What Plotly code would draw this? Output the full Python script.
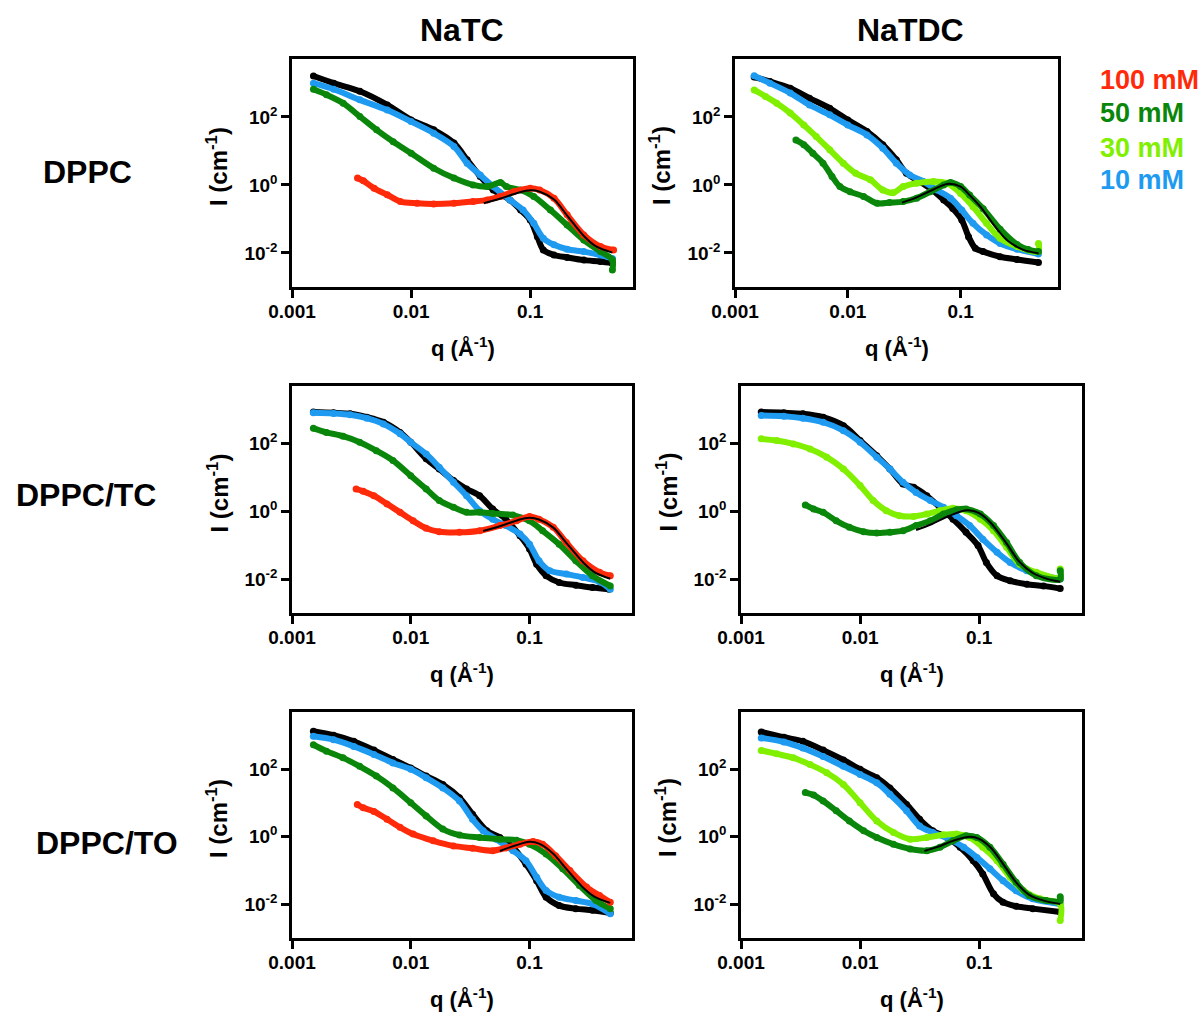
import numpy as np
import plotly.graph_objects as go

# SANS curves, stored as log10(q / Å^-1) and log10(I / cm^-1)
# Colours per bile-salt concentration
C0, C10, C30, C50, C100 = "#000000", "#1e9bf0", "#80f000", "#0a870a", "#ff2a0a"

# ---------------- DPPC + NaTC ----------------
p1_k_lq = [-2.82, -2.65, -2.43, -2.20, -2.0, -1.81, -1.64, -1.53, -1.42, -1.31, -1.17, -1.08, -1.0, -0.94, -0.89, -0.80, -0.69, -0.55, -0.41, -0.31]
p1_k_lI = [3.2, 2.99, 2.75, 2.35, 1.91, 1.62, 1.23, 0.74, 0.25, -0.15, -0.44, -0.74, -1.03, -1.52, -1.91, -2.06, -2.13, -2.21, -2.25, -2.30]
p1_b_lq = [-2.82, -2.65, -2.43, -2.20, -2.0, -1.81, -1.64, -1.53, -1.42, -1.31, -1.17, -1.06, -0.97, -0.89, -0.80, -0.69, -0.55, -0.41, -0.31]
p1_b_lI = [2.99, 2.81, 2.5, 2.2, 1.86, 1.52, 1.13, 0.64, 0.29, -0.05, -0.44, -0.74, -1.13, -1.57, -1.76, -1.89, -1.96, -2.06, -2.16]
p1_g_lq = [-2.82, -2.71, -2.57, -2.43, -2.29, -2.15, -2.0, -1.81, -1.64, -1.48, -1.36, -1.25, -1.2, -1.08, -0.97, -0.83, -0.69, -0.55, -0.41, -0.31, -0.31]
p1_g_lI = [2.81, 2.65, 2.4, 2.01, 1.62, 1.27, 0.93, 0.49, 0.2, 0.0, -0.05, 0.07, -0.05, -0.15, -0.34, -0.74, -1.18, -1.62, -1.96, -2.2, -2.5]
p1_r_lq = [-2.45, -2.40, -2.31, -2.20, -2.09, -1.95, -1.81, -1.64, -1.48, -1.36, -1.25, -1.14, -1.0, -0.92, -0.80, -0.69, -0.55, -0.41, -0.30]
p1_r_lI = [0.2, 0.12, -0.1, -0.29, -0.49, -0.54, -0.56, -0.54, -0.49, -0.44, -0.34, -0.2, -0.1, -0.15, -0.39, -0.88, -1.47, -1.81, -1.91]
p1_fit_lq = [-1.39, -1.25, -1.1, -1.0, -0.92, -0.8, -0.69, -0.55, -0.45, -0.31]
p1_fit_lI = [-0.54, -0.40, -0.23, -0.16, -0.2, -0.43, -0.9, -1.5, -1.8, -1.99]

# ---------------- DPPC + NaTDC ----------------
p2_k_lq = [-2.83, -2.69, -2.51, -2.34, -2.16, -2.0, -1.83, -1.69, -1.57, -1.48, -1.39, -1.27, -1.15, -1.07, -0.99, -0.93, -0.87, -0.80, -0.65, -0.50, -0.31]
p2_k_lI = [3.17, 3.04, 2.84, 2.55, 2.25, 1.91, 1.57, 1.18, 0.74, 0.34, 0.15, -0.1, -0.44, -0.69, -1.03, -1.52, -1.86, -1.96, -2.11, -2.19, -2.28]
p2_b_lq = [-2.83, -2.69, -2.51, -2.34, -2.16, -2.0, -1.83, -1.69, -1.57, -1.45, -1.33, -1.21, -1.09, -0.99, -0.89, -0.77, -0.65, -0.50, -0.31]
p2_b_lI = [3.21, 2.99, 2.70, 2.35, 2.06, 1.76, 1.47, 1.08, 0.64, 0.29, 0.1, -0.15, -0.39, -0.74, -1.13, -1.47, -1.72, -1.89, -2.03]
p2_lg_lq = [-2.83, -2.73, -2.63, -2.51, -2.39, -2.28, -2.16, -2.04, -1.93, -1.80, -1.69, -1.60, -1.51, -1.39, -1.24, -1.12, -1.0, -0.89, -0.77, -0.65, -0.50, -0.31, -0.31]
p2_lg_lI = [2.79, 2.6, 2.4, 2.11, 1.76, 1.42, 1.03, 0.64, 0.34, 0.15, -0.15, -0.23, -0.05, 0.05, 0.1, 0.05, -0.25, -0.64, -1.13, -1.57, -1.81, -1.96, -1.72]
p2_g_lq = [-2.46, -2.39, -2.31, -2.22, -2.14, -2.07, -1.98, -1.86, -1.74, -1.63, -1.51, -1.39, -1.27, -1.15, -1.09, -1.0, -0.92, -0.80, -0.65, -0.50, -0.40, -0.31]
p2_g_lI = [1.32, 1.18, 0.93, 0.64, 0.25, -0.05, -0.2, -0.34, -0.54, -0.52, -0.49, -0.39, -0.2, 0.0, 0.07, -0.05, -0.3, -0.70, -1.3, -1.75, -1.9, -1.96]
p2_fit_lq = [-1.52, -1.40, -1.25, -1.12, -1.0, -0.92, -0.82, -0.70, -0.58, -0.45, -0.31]
p2_fit_lI = [-0.52, -0.38, -0.15, 0.03, -0.05, -0.30, -0.66, -1.2, -1.65, -1.9, -2.01]

# ---------------- DPPC/TC + NaTC ----------------
p3_k_lq = [-2.82, -2.65, -2.51, -2.37, -2.23, -2.09, -2.0, -1.87, -1.76, -1.64, -1.53, -1.42, -1.31, -1.20, -1.08, -1.0, -0.94, -0.86, -0.75, -0.61, -0.47, -0.33]
p3_k_lI = [2.93, 2.91, 2.88, 2.78, 2.63, 2.33, 2.04, 1.55, 1.25, 0.91, 0.66, 0.46, 0.07, -0.23, -0.72, -1.11, -1.56, -1.9, -2.1, -2.18, -2.25, -2.3]
p3_b_lq = [-2.82, -2.65, -2.51, -2.37, -2.23, -2.09, -2.0, -1.87, -1.76, -1.64, -1.53, -1.42, -1.31, -1.20, -1.08, -1.0, -0.92, -0.83, -0.69, -0.55, -0.41, -0.32]
p3_b_lI = [2.91, 2.89, 2.85, 2.75, 2.58, 2.29, 2.04, 1.69, 1.30, 0.86, 0.46, 0.02, -0.23, -0.42, -0.67, -0.97, -1.46, -1.75, -1.85, -1.95, -2.08, -2.3]
p3_g_lq = [-2.82, -2.71, -2.57, -2.43, -2.29, -2.15, -2.0, -1.87, -1.76, -1.64, -1.53, -1.42, -1.31, -1.14, -1.0, -0.89, -0.75, -0.61, -0.47, -0.32]
p3_g_lI = [2.45, 2.33, 2.22, 2.04, 1.79, 1.5, 1.05, 0.66, 0.32, 0.12, -0.03, -0.03, -0.06, -0.11, -0.28, -0.57, -0.97, -1.46, -1.9, -2.2]
p3_r_lq = [-2.46, -2.40, -2.31, -2.20, -2.09, -1.98, -1.87, -1.76, -1.59, -1.42, -1.25, -1.11, -1.0, -0.92, -0.80, -0.69, -0.55, -0.41, -0.32]
p3_r_lI = [0.66, 0.59, 0.46, 0.22, -0.03, -0.28, -0.5, -0.6, -0.62, -0.57, -0.42, -0.28, -0.15, -0.23, -0.47, -0.92, -1.46, -1.8, -1.9]
p3_fit_lq = [-1.39, -1.25, -1.1, -1.0, -0.92, -0.8, -0.69, -0.55, -0.45, -0.32]
p3_fit_lI = [-0.58, -0.44, -0.26, -0.19, -0.24, -0.48, -0.93, -1.5, -1.8, -1.99]

# ---------------- DPPC/TC + NaTDC ----------------
p4_k_lq = [-2.83, -2.64, -2.48, -2.31, -2.14, -2.0, -1.86, -1.75, -1.64, -1.55, -1.44, -1.33, -1.22, -1.11, -1.01, -0.94, -0.85, -0.74, -0.60, -0.46, -0.32]
p4_k_lI = [2.93, 2.91, 2.88, 2.78, 2.53, 2.09, 1.64, 1.25, 0.81, 0.71, 0.46, 0.12, -0.23, -0.62, -1.01, -1.51, -1.9, -2.05, -2.15, -2.2, -2.28]
p4_b_lq = [-2.83, -2.64, -2.48, -2.31, -2.14, -2.0, -1.86, -1.75, -1.64, -1.53, -1.41, -1.30, -1.19, -1.08, -0.97, -0.85, -0.74, -0.60, -0.46, -0.32]
p4_b_lI = [2.83, 2.81, 2.75, 2.63, 2.38, 2.04, 1.60, 1.25, 0.86, 0.56, 0.32, 0.12, -0.13, -0.42, -0.82, -1.21, -1.51, -1.75, -1.9, -2.0]
p4_lg_lq = [-2.83, -2.70, -2.56, -2.42, -2.28, -2.14, -2.0, -1.89, -1.78, -1.67, -1.55, -1.44, -1.33, -1.22, -1.11, -0.99, -0.88, -0.77, -0.66, -0.52, -0.32, -0.32]
p4_lg_lI = [2.14, 2.09, 1.99, 1.84, 1.60, 1.25, 0.76, 0.32, 0.02, -0.13, -0.15, -0.08, 0.02, 0.09, 0.02, -0.23, -0.57, -1.06, -1.56, -1.8, -1.95, -1.7]
p4_g_lq = [-2.46, -2.39, -2.31, -2.20, -2.09, -1.97, -1.86, -1.75, -1.64, -1.53, -1.41, -1.30, -1.19, -1.11, -0.99, -0.88, -0.77, -0.66, -0.52, -0.32, -0.32]
p4_g_lI = [0.19, 0.07, -0.03, -0.28, -0.47, -0.6, -0.64, -0.62, -0.57, -0.42, -0.28, -0.08, 0.05, 0.07, -0.08, -0.42, -0.92, -1.51, -1.9, -2.0, -1.75]
p4_fit_lq = [-1.53, -1.40, -1.25, -1.10, -1.0, -0.9, -0.78, -0.66, -0.55, -0.45, -0.32]
p4_fit_lI = [-0.55, -0.38, -0.13, 0.03, -0.05, -0.35, -0.9, -1.5, -1.82, -1.97, -2.08]

# ---------------- DPPC/TO + NaTC ----------------
p5_k_lq = [-2.82, -2.65, -2.48, -2.31, -2.15, -2.0, -1.87, -1.73, -1.59, -1.48, -1.36, -1.25, -1.14, -1.03, -0.94, -0.86, -0.75, -0.61, -0.47, -0.32]
p5_k_lI = [3.13, 3.01, 2.83, 2.57, 2.29, 2.04, 1.8, 1.55, 1.16, 0.67, 0.18, -0.02, -0.31, -0.81, -1.3, -1.79, -2.04, -2.13, -2.18, -2.26]
p5_b_lq = [-2.82, -2.65, -2.48, -2.31, -2.15, -2.0, -1.87, -1.73, -1.59, -1.48, -1.39, -1.28, -1.14, -1.03, -0.94, -0.86, -0.75, -0.61, -0.47, -0.32]
p5_b_lI = [2.98, 2.88, 2.68, 2.44, 2.19, 2.0, 1.75, 1.45, 1.06, 0.52, 0.18, -0.07, -0.41, -0.71, -1.2, -1.59, -1.79, -1.89, -1.99, -2.28]
p5_g_lq = [-2.82, -2.71, -2.57, -2.43, -2.29, -2.15, -2.0, -1.87, -1.73, -1.59, -1.42, -1.25, -1.11, -1.0, -0.86, -0.72, -0.58, -0.44, -0.32]
p5_g_lI = [2.73, 2.54, 2.34, 2.09, 1.8, 1.45, 1.01, 0.62, 0.23, 0.05, -0.02, -0.07, -0.1, -0.22, -0.51, -0.95, -1.44, -1.89, -2.13]
p5_r_lq = [-2.45, -2.40, -2.31, -2.20, -2.09, -1.98, -1.81, -1.64, -1.48, -1.31, -1.20, -1.08, -0.97, -0.89, -0.78, -0.66, -0.52, -0.41, -0.32]
p5_r_lI = [0.96, 0.86, 0.75, 0.52, 0.28, 0.08, -0.12, -0.27, -0.34, -0.41, -0.33, -0.22, -0.14, -0.22, -0.56, -1.0, -1.49, -1.74, -1.94]
p5_fit_lq = [-1.25, -1.12, -1.0, -0.92, -0.8, -0.69, -0.55, -0.45, -0.32]
p5_fit_lI = [-0.42, -0.26, -0.15, -0.2, -0.5, -0.95, -1.5, -1.78, -1.96]

# ---------------- DPPC/TO + NaTDC ----------------
p6_k_lq = [-2.83, -2.64, -2.48, -2.31, -2.14, -2.0, -1.86, -1.75, -1.61, -1.50, -1.39, -1.27, -1.16, -1.05, -0.97, -0.88, -0.80, -0.69, -0.55, -0.32]
p6_k_lI = [3.11, 2.95, 2.83, 2.57, 2.28, 2.0, 1.75, 1.45, 0.96, 0.52, 0.18, -0.02, -0.31, -0.71, -1.1, -1.69, -1.94, -2.06, -2.13, -2.23]
p6_b_lq = [-2.83, -2.64, -2.48, -2.31, -2.14, -2.0, -1.86, -1.75, -1.61, -1.50, -1.39, -1.25, -1.13, -1.02, -0.91, -0.80, -0.69, -0.55, -0.32]
p6_b_lI = [2.93, 2.81, 2.63, 2.38, 2.09, 1.85, 1.6, 1.26, 0.77, 0.32, 0.13, -0.07, -0.31, -0.61, -0.95, -1.3, -1.6, -1.84, -1.99]
p6_lg_lq = [-2.83, -2.70, -2.56, -2.42, -2.28, -2.14, -2.0, -1.86, -1.72, -1.58, -1.44, -1.30, -1.19, -1.08, -0.97, -0.85, -0.74, -0.63, -0.49, -0.32, -0.32]
p6_lg_lI = [2.56, 2.46, 2.34, 2.14, 1.9, 1.55, 1.01, 0.47, 0.13, -0.07, -0.02, 0.06, 0.08, -0.02, -0.31, -0.71, -1.2, -1.59, -1.84, -1.99, -2.48]
p6_g_lq = [-2.46, -2.39, -2.31, -2.20, -2.09, -1.97, -1.86, -1.72, -1.58, -1.44, -1.33, -1.22, -1.11, -1.02, -0.91, -0.80, -0.69, -0.58, -0.44, -0.32, -0.32]
p6_g_lI = [1.31, 1.24, 1.06, 0.77, 0.47, 0.18, -0.02, -0.22, -0.36, -0.41, -0.31, -0.12, 0.03, -0.02, -0.31, -0.81, -1.35, -1.74, -1.89, -1.89, -1.78]
p6_fit_lq = [-1.46, -1.35, -1.22, -1.08, -1.0, -0.9, -0.8, -0.69, -0.58, -0.45, -0.32]
p6_fit_lI = [-0.42, -0.3, -0.12, 0.0, -0.06, -0.33, -0.8, -1.35, -1.72, -1.9, -1.99]

column_titles = ["NaTC", "NaTDC"]
row_titles = ["DPPC", "DPPC/TC", "DPPC/TO"]
legend_labels = ["100 mM", "50 mM", "30 mM", "10 mM"]
legend_colors = [C100, C50, C30, C10]
x_tick_vals = [0.001, 0.01, 0.1]
x_tick_text = ["0.001", "0.01", "0.1"]
y_tick_vals = [0.01, 1, 100]
y_tick_text = ["10<sup>-2</sup>", "10<sup>0</sup>", "10<sup>2</sup>"]

# data series per panel, drawn in this order (bottom to top)
panels = [
    [(p1_k_lq, p1_k_lI, C0), (p1_b_lq, p1_b_lI, C10), (p1_g_lq, p1_g_lI, C50), (p1_r_lq, p1_r_lI, C100), (p1_fit_lq, p1_fit_lI, None)],
    [(p2_k_lq, p2_k_lI, C0), (p2_b_lq, p2_b_lI, C10), (p2_lg_lq, p2_lg_lI, C30), (p2_g_lq, p2_g_lI, C50), (p2_fit_lq, p2_fit_lI, None)],
    [(p3_k_lq, p3_k_lI, C0), (p3_b_lq, p3_b_lI, C10), (p3_g_lq, p3_g_lI, C50), (p3_r_lq, p3_r_lI, C100), (p3_fit_lq, p3_fit_lI, None)],
    [(p4_k_lq, p4_k_lI, C0), (p4_b_lq, p4_b_lI, C10), (p4_lg_lq, p4_lg_lI, C30), (p4_g_lq, p4_g_lI, C50), (p4_fit_lq, p4_fit_lI, None)],
    [(p5_k_lq, p5_k_lI, C0), (p5_b_lq, p5_b_lI, C10), (p5_g_lq, p5_g_lI, C50), (p5_r_lq, p5_r_lI, C100), (p5_fit_lq, p5_fit_lI, None)],
    [(p6_k_lq, p6_k_lI, C0), (p6_b_lq, p6_b_lI, C10), (p6_lg_lq, p6_lg_lI, C30), (p6_g_lq, p6_g_lI, C50), (p6_fit_lq, p6_fit_lI, None)],
]

W, H = 1201, 1012
# plot-area boxes in pixels: (left, right, top, bottom)
boxes = [
    (292, 633, 59, 287), (735, 1058, 59, 287),
    (292, 632, 386, 613), (741, 1082, 386, 613),
    (292, 632, 712, 938), (741, 1082, 712, 938),
]

FONT = "Liberation Sans, Arial, sans-serif"
fig = go.Figure()

for idx, (series, box) in enumerate(zip(panels, boxes)):
    n = idx + 1
    xa = "x" if n == 1 else f"x{n}"
    ya = "y" if n == 1 else f"y{n}"
    for lq, lI, col in series:
        q = np.power(10.0, np.array(lq))
        inten = np.power(10.0, np.array(lI))
        if col is None:
            fig.add_trace(go.Scatter(x=q, y=inten, mode="lines", xaxis=xa, yaxis=ya,
                                     line=dict(color="black", width=2, shape="spline", smoothing=0.9),
                                     showlegend=False, hoverinfo="skip"))
        else:
            fig.add_trace(go.Scatter(x=q, y=inten, mode="lines+markers", xaxis=xa, yaxis=ya,
                                     line=dict(color=col, width=6, shape="spline", smoothing=0.9),
                                     marker=dict(color=col, size=7),
                                     showlegend=False, hoverinfo="skip"))

    l, r, t, b = box
    axis_common = dict(type="log", showgrid=False, zeroline=False, showline=True, mirror=True,
                       automargin=False,
                       linecolor="black", linewidth=2.5, ticks="outside", ticklen=8, tickwidth=2.5,
                       tickcolor="black", tickfont=dict(family=FONT, size=19, color="black", weight="bold"))
    fig.layout[f"xaxis{'' if n == 1 else n}"] = dict(
        axis_common, domain=[l / W, r / W], anchor=ya, range=[-3, -0.137],
        tickvals=x_tick_vals, ticktext=x_tick_text, ticklabelstandoff=-3)
    fig.layout[f"yaxis{'' if n == 1 else n}"] = dict(
        axis_common, domain=[1 - b / H, 1 - t / H], anchor=xa, range=[-3, 3.7],
        tickvals=y_tick_vals, ticktext=y_tick_text)

    # axis titles
    fig.add_annotation(x=(l + r) / 2 / W, y=1 - (b + 60) / H, xref="paper", yref="paper",
                       text="q (Å<sup>-1</sup>)", showarrow=False, xanchor="center", yanchor="middle",
                       font=dict(family=FONT, size=22, color="black", weight="bold"))
    fig.add_annotation(x=(l - 75) / W, y=1 - ((t + b) / 2 - 7) / H, xref="paper", yref="paper",
                       text="I (cm<sup>-1</sup>)", showarrow=False, textangle=-90,
                       xanchor="center", yanchor="middle",
                       font=dict(family=FONT, size=24, color="black", weight="bold"))

# column and row headings
for txt, cx in zip(column_titles, [462, 910]):
    fig.add_annotation(x=cx / W, y=1 - 30 / H, xref="paper", yref="paper", text=txt, showarrow=False,
                       xanchor="center", yanchor="middle",
                       font=dict(family=FONT, size=32, color="black", weight="bold"))
for txt, cx, cy in zip(row_titles, [87, 86, 107], [172, 495, 843]):
    fig.add_annotation(x=cx / W, y=1 - cy / H, xref="paper", yref="paper", text=txt, showarrow=False,
                       xanchor="center", yanchor="middle",
                       font=dict(family=FONT, size=32, color="black", weight="bold"))

# concentration key
for txt, col, cy in zip(legend_labels, legend_colors, [80, 113, 148, 180]):
    fig.add_annotation(x=1098 / W, y=1 - cy / H, xref="paper", yref="paper", text=txt, showarrow=False,
                       xanchor="left", yanchor="middle",
                       font=dict(family=FONT, size=27, color=col, weight="bold"))

fig.update_layout(width=W, height=H, margin=dict(l=0, r=0, t=0, b=0, autoexpand=False),
                  paper_bgcolor="white", plot_bgcolor="white", showlegend=False)

fig.write_html("out.html")
